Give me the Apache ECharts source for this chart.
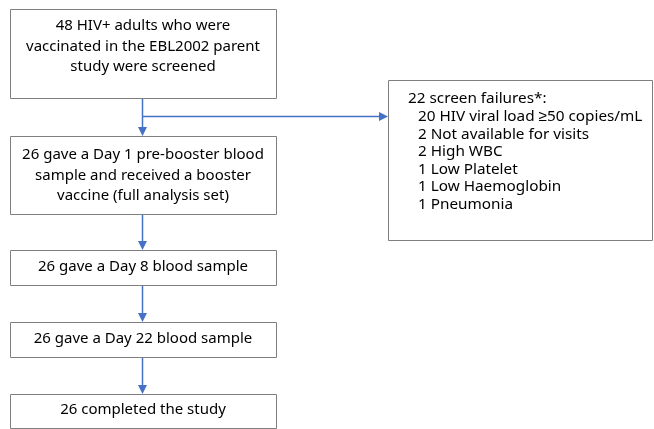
<!DOCTYPE html>
<html>
<head>
<meta charset="utf-8">
<script src="https://cdn.jsdelivr.net/npm/echarts@6/dist/echarts.min.js"></script>
<style>
  html, body { margin: 0; padding: 0; background: #fff; }
  #chart { width: 654px; height: 429px; }
</style>
</head>
<body>
<div id="chart"></div>
<script>
// box texts, top to bottom in the main column
const mainSteps = [
  ['48 HIV+ adults who were', 'vaccinated in the EBL2002 parent', 'study were screened'],
  ['26 gave a Day 1 pre-booster blood', 'sample and received a booster', 'vaccine (full analysis set)'],
  ['26 gave a Day 8 blood sample'],
  ['26 gave a Day 22 blood sample'],
  ['26 completed the study']
]
const exclusionTitle = '22 screen failures*:'
const exclusionReasons = [
  '20 HIV viral load \u226550 copies/mL',
  '2 Not available for visits',
  '2 High WBC',
  '1 Low Platelet',
  '1 Low Haemoglobin',
  '1 Pneumonia'
]

// layout
const FONT = '15px "Noto Sans", sans-serif'
const SIDE_FONT = '15.3px "Noto Sans", sans-serif'
const BORDER = '#7f7f7f'
const ARROW = '#4472c4'
const colLeft = 10
const colRight = 276
const colMid = 142
const boxes = [
  { top: 9, bottom: 98, textTop: 26 },
  { top: 136, bottom: 214, textTop: 155 },
  { top: 250, bottom: 285, textTop: 267 },
  { top: 322, bottom: 357, textTop: 339 },
  { top: 394, bottom: 428, textTop: 410 }
]
const lineGap = 20.5
const sideBox = { left: 388, right: 652, top: 80, bottom: 240 }
const branchY = 116

const chart = echarts.init(document.getElementById('chart'))
const elements = []

const arrowHead = (x, y, dir) => {
  const s = 4.5, l = 9
  const pts = dir === 'down'
    ? [[x - s, y - l], [x + s, y - l], [x, y]]
    : [[x - l, y - s], [x - l, y + s], [x, y]]
  return { type: 'polygon', shape: { points: pts }, style: { fill: ARROW } }
}

mainSteps.forEach((lines, i) => {
  const b = boxes[i]
  elements.push({
    type: 'rect',
    shape: { x: colLeft + 0.5, y: b.top + 0.5, width: colRight - colLeft, height: b.bottom - b.top },
    style: { fill: '#fff', stroke: BORDER, lineWidth: 1 }
  })
  lines.forEach((t, j) => {
    elements.push({
      type: 'text',
      x: colMid + 1, y: b.textTop + j * lineGap,
      style: { text: t, font: FONT, fill: '#000', align: 'center', verticalAlign: 'middle' }
    })
  })
  if (i < mainSteps.length - 1) {
    const nb = boxes[i + 1]
    elements.push({
      type: 'line',
      shape: { x1: colMid + 0.5, y1: b.bottom + 1, x2: colMid + 0.5, y2: nb.top - 6 },
      style: { stroke: ARROW, lineWidth: 1.5 }
    })
    elements.push(arrowHead(colMid + 0.5, nb.top, 'down'))
  }
})

// branch to screen failures
elements.push({
  type: 'line',
  shape: { x1: colMid + 0.5, y1: branchY + 0.5, x2: sideBox.left - 6, y2: branchY + 0.5 },
  style: { stroke: ARROW, lineWidth: 1.5 }
})
elements.push(arrowHead(sideBox.left, branchY + 0.5, 'right'))

elements.push({
  type: 'rect',
  shape: { x: sideBox.left + 0.5, y: sideBox.top + 0.5, width: sideBox.right - sideBox.left, height: sideBox.bottom - sideBox.top },
  style: { fill: '#fff', stroke: BORDER, lineWidth: 1 }
})
const sideLines = [exclusionTitle].concat(exclusionReasons)
sideLines.forEach((t, j) => {
  elements.push({
    type: 'text',
    x: j === 0 ? 408 : 418, y: 99 + j * 17.6,
    style: { text: t, font: SIDE_FONT, fill: '#000', align: 'left', verticalAlign: 'middle' }
  })
})

chart.setOption({
  animation: false,
  backgroundColor: '#fff',
  graphic: { elements: elements }
})
</script>
</body>
</html>
